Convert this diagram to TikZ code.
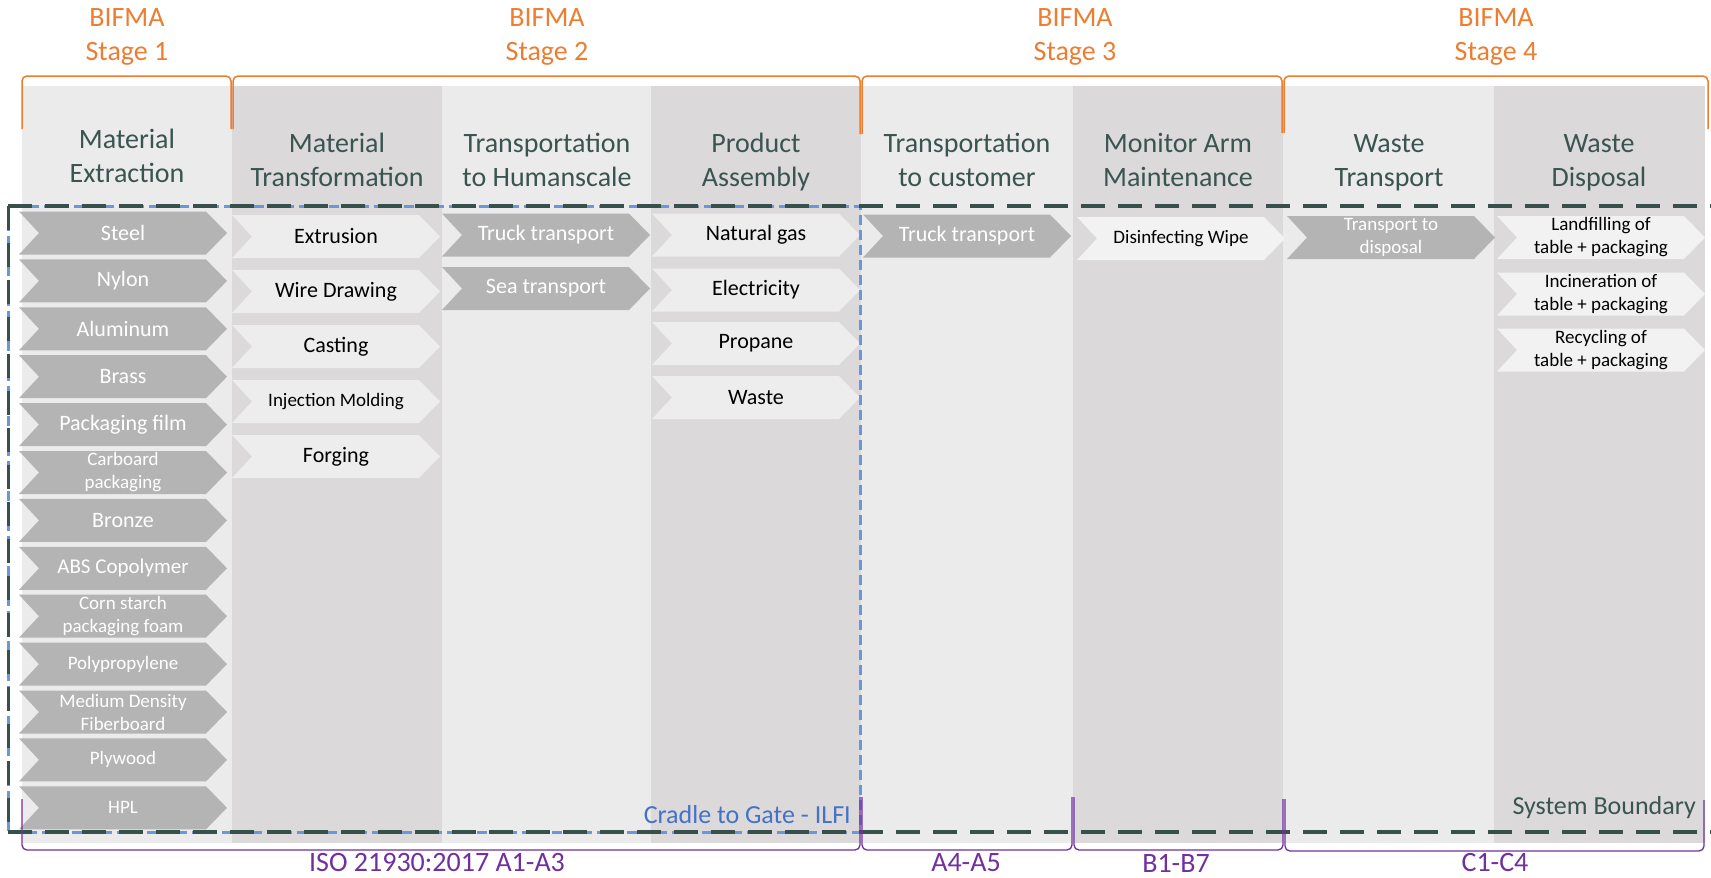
\documentclass[tikz,border=0pt]{standalone}
\usepackage{fontspec}
\setmainfont{Carlito}
\definecolor{colLight}{HTML}{EBEBEB}
\definecolor{colDark}{HTML}{DBD9DA}
\definecolor{chevDark}{HTML}{B4B4B4}
\definecolor{chevLight}{HTML}{EDEDED}
\definecolor{chevWhite}{HTML}{F2F2F2}
\definecolor{headTxt}{HTML}{3A5450}
\definecolor{bifmaOr}{HTML}{ED7D31}
\definecolor{isoPur}{HTML}{7030A0}
\definecolor{ilfiTxt}{HTML}{4472C4}
\definecolor{ilfiLine}{HTML}{6A96DA}
\definecolor{sysLine}{HTML}{37504B}
\tikzset{
  head/.style={font=\fontsize{28}{34}\selectfont, text=headTxt, align=center, inner sep=0pt},
  bif/.style={font=\fontsize{28}{34}\selectfont, text=bifmaOr, align=center, inner sep=0pt},
  isolab/.style={font=\fontsize{28}{34}\selectfont, text=isoPur, inner sep=0pt},
  dtxt/.style={text=white, align=center, inner sep=0pt, font=\fontsize{22}{27}\selectfont},
  ltxt/.style={text=black, align=center, inner sep=0pt, font=\fontsize{22}{27}\selectfont},
  sm/.style={font=\fontsize{19}{23}\selectfont},
  smm/.style={font=\fontsize{21}{25}\selectfont},
  orbrace/.style={draw=bifmaOr, line width=1.5pt, rounded corners=5pt},
  pubrace/.style={draw=isoPur, line width=1.3pt, rounded corners=5pt},
}
% #1 name, #2 left x, #3 centre y, #4 fill, #5 text style, #6 text
\newcommand{\chev}[6]{%
  \fill[#4] ({#2},{#3-21.5}) -- ++(187,0) -- ++(21,21.5) -- ++(-21,21.5) -- ++(-187,0) -- ++(20,-21.5) -- cycle;
  \node[#5] (#1) at ({#2+104},{#3}) {#6};
}
\begin{document}
\begin{tikzpicture}[x=1pt,y=-1pt]
\useasboundingbox (0,0) rectangle (1711,878);
\fill[white] (0,0) rectangle (1711,878);
\clip (0,0) rectangle (1711,878);
% columns
\fill[colLight] (22,86) rectangle (232,843);
\fill[colDark] (232,86) rectangle (442,843);
\fill[colLight] (442,86) rectangle (651,843);
\fill[colDark] (651,86) rectangle (861,843);
\fill[colLight] (861,86) rectangle (1073,843);
\fill[colDark] (1073,86) rectangle (1283,843);
\fill[colLight] (1283,86) rectangle (1494,843);
\fill[colDark] (1494,86) rectangle (1705,843);
% headers
\node[head] (h1) at (127,156) {Material\\Extraction};
\node[head] (h2) at (337,160) {Material\\Transformation};
\node[head] (h3) at (547,160) {Transportation\\to Humanscale};
\node[head] (h4) at (756,162) {Product\\Assembly};
\node[head] (h5) at (967,160) {Transportation\\to customer};
\node[head] (h6) at (1178,160) {Monitor Arm\\Maintenance};
\node[head] (h7) at (1389,163) {Waste\\Transport};
\node[head] (h8) at (1599,163) {Waste\\Disposal};
% column 1
\chev{m1}{19}{233}{chevDark}{dtxt}{Steel}
\chev{m2}{19}{280.9}{chevDark}{dtxt}{Nylon}
\chev{m3}{19}{328.8}{chevDark}{dtxt}{Aluminum}
\chev{m4}{19}{376.7}{chevDark}{dtxt}{Brass}
\chev{m5}{19}{424.6}{chevDark}{dtxt}{Packaging film}
\chev{m6}{19}{472.5}{chevDark}{dtxt,sm}{Carboard\\packaging}
\chev{m7}{19}{520.4}{chevDark}{dtxt}{Bronze}
\chev{m8}{19}{568.3}{chevDark}{dtxt,smm}{ABS Copolymer}
\chev{m9}{19}{616.2}{chevDark}{dtxt,sm}{Corn starch\\packaging foam}
\chev{m10}{19}{664.1}{chevDark}{dtxt,sm}{Polypropylene}
\chev{m11}{19}{712}{chevDark}{dtxt,sm}{Medium Density\\Fiberboard}
\chev{m12}{19}{759.9}{chevDark}{dtxt,sm}{Plywood}
\chev{m13}{19}{807.8}{chevDark}{dtxt,sm}{HPL}
% column 2
\chev{t1}{232}{236.5}{chevLight}{ltxt}{Extrusion}
\chev{t2}{232}{291.5}{chevLight}{ltxt}{Wire Drawing}
\chev{t3}{232}{346.5}{chevLight}{ltxt}{Casting}
\chev{t4}{232}{401.5}{chevLight}{ltxt,sm}{Injection Molding}
\chev{t5}{232}{456.5}{chevLight}{ltxt}{Forging}
% column 3
\chev{r1}{442}{235}{chevDark}{dtxt}{Truck transport}
\chev{r2}{442}{288.5}{chevDark}{dtxt}{Sea transport}
% column 4
\chev{a1}{652}{235}{chevLight}{ltxt}{Natural gas}
\chev{a2}{652}{290}{chevLight}{ltxt}{Electricity}
\chev{a3}{652}{343.5}{chevLight}{ltxt}{Propane}
\chev{a4}{652}{397.5}{chevLight}{ltxt}{Waste}
% column 5
\chev{c1}{863}{236}{chevDark}{dtxt}{Truck transport}
% column 6
\chev{u1}{1077}{238.5}{chevWhite}{ltxt,sm}{Disinfecting Wipe}
% column 7
\chev{w1}{1287}{237.5}{chevDark}{dtxt,sm}{Transport to\\disposal}
% column 8
\chev{d1}{1497}{237.5}{chevWhite}{ltxt,sm}{Landfilling of\\table + packaging}
\chev{d2}{1497}{294}{chevWhite}{ltxt,sm}{Incineration of\\table + packaging}
\chev{d3}{1497}{350}{chevWhite}{ltxt,sm}{Recycling of\\table + packaging}
% boundaries
\draw[ilfiLine, line width=3pt, dash pattern=on 10pt off 5pt] (8,206) rectangle (860,832);
\draw[sysLine, line width=3.5pt, dash pattern=on 24pt off 13pt] (8,206) -- (1720,206);
\draw[sysLine, line width=3.5pt, dash pattern=on 24pt off 13pt] (8,832) -- (1720,832);
\draw[sysLine, line width=3pt, dash pattern=on 24pt off 13pt] (8,206) -- (8,832);
\node[font=\fontsize{26}{31}\selectfont, text=ilfiTxt, anchor=east, inner sep=0pt] (ctg) at (851,815) {Cradle to Gate - ILFI};
\node[font=\fontsize{26}{31}\selectfont, text=headTxt, anchor=east, inner sep=0pt] (sb) at (1696,808) {System Boundary};
% BIFMA braces
\draw[orbrace] (22,129) -- (22,76) -- (231,76) -- (231,129);
\draw[orbrace] (233,129) -- (233,76) -- (860,76) -- (860,134);
\draw[orbrace] (862,134) -- (862,76) -- (1282,76) -- (1282,133);
\draw[orbrace] (1284,133) -- (1284,76) -- (1708,76) -- (1708,129);
\node[bif] (s1) at (127,37) {BIFMA\\Stage 1};
\node[bif] (s2) at (547,37) {BIFMA\\Stage 2};
\node[bif] (s3) at (1075,37) {BIFMA\\Stage 3};
\node[bif] (s4) at (1496,37) {BIFMA\\Stage 4};
% ISO braces
\draw[pubrace] (22,799) -- (22,850) -- (860,850) -- (860,797);
\draw[pubrace] (862,797) -- (862,850) -- (1072,850) -- (1072,797);
\draw[pubrace] (1074,797) -- (1074,850) -- (1283,850) -- (1283,799);
\draw[pubrace] (1285,799) -- (1285,851) -- (1704,851) -- (1704,800);
\node[isolab] (i1) at (437,863) {ISO 21930:2017 A1-A3};
\node[isolab] (i2) at (966,863) {A4-A5};
\node[isolab] (i3) at (1176,863) {B1-B7};
\node[isolab] (i4) at (1495,863) {C1-C4};
\end{tikzpicture}
\end{document}
